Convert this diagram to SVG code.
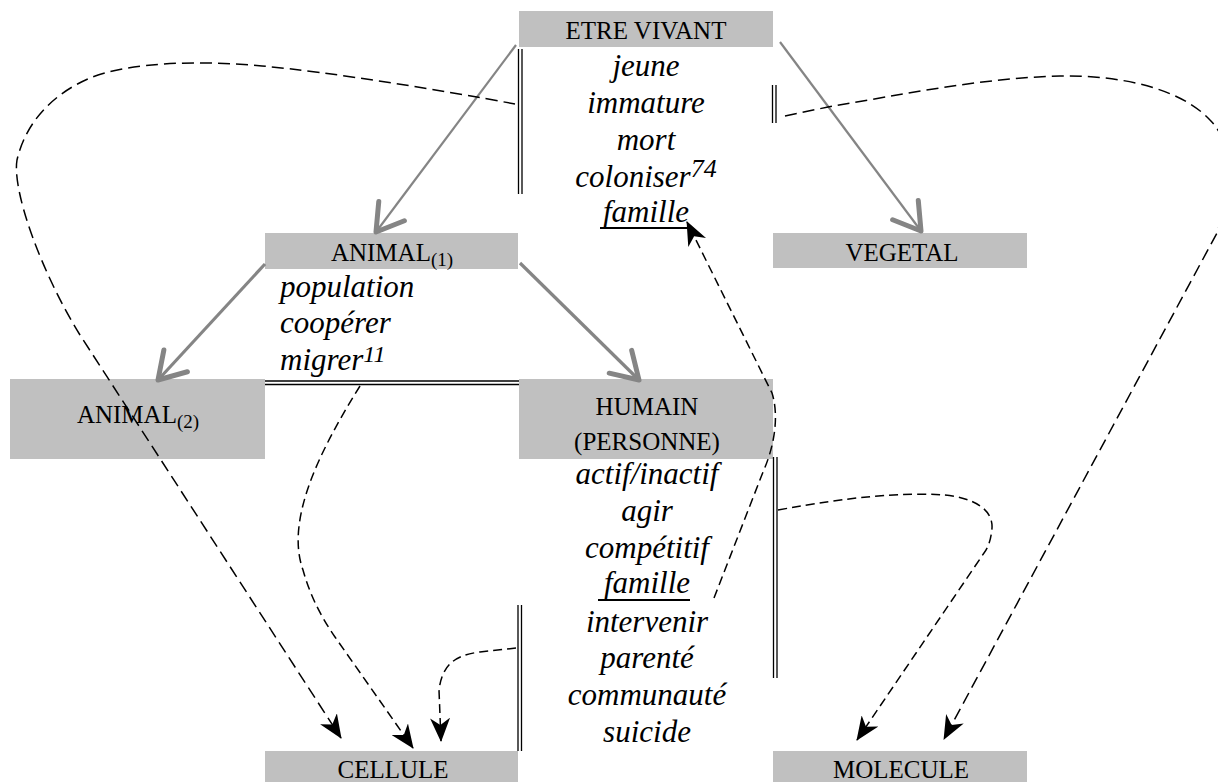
<svg xmlns="http://www.w3.org/2000/svg" width="1218" height="782" viewBox="0 0 1218 782">
<style>
.box{fill:#c0c0c0}
.lbl{font-family:"Liberation Serif","Times New Roman",serif;font-size:25px;fill:#000;text-anchor:middle}
.it{font-family:"Liberation Serif","Times New Roman",serif;font-size:31px;font-style:italic;fill:#000}
.mid{text-anchor:middle}
.dbl{stroke:#000;stroke-width:1.3;fill:none}
.gray{stroke:#858585;fill:none}
.dash{stroke:#000;stroke-width:1.5;fill:none;stroke-dasharray:9 5}
.dashl{stroke:#000;stroke-width:1.5;fill:none;stroke-dasharray:12 6}
.ul{stroke:#000;stroke-width:2}
</style>
<defs>
<marker id="ga" markerUnits="userSpaceOnUse" viewBox="-30 -20 34 40" refX="0" refY="0" markerWidth="34" markerHeight="40" orient="auto">
<path d="M-26,-16 L0,0 L-26,16" fill="none" stroke="#858585" stroke-width="5" stroke-linecap="round" stroke-linejoin="round"/>
</marker>
<marker id="ba" markerUnits="userSpaceOnUse" viewBox="0 0 24 20" refX="23" refY="10" markerWidth="24" markerHeight="20" orient="auto">
<path d="M0,0 L24,10 L0,20 L7,10 Z" fill="#000"/>
</marker>
</defs>

<g id="etre-vivant">
<rect class="box" x="519" y="11" width="254" height="36"/>
<text class="lbl" x="646" y="39">ETRE VIVANT</text>
<text class="it mid" x="646" y="76">jeune</text>
<text class="it mid" x="646" y="113">immature</text>
<text class="it mid" x="646" y="150">mort</text>
<text class="it mid" x="646" y="187">coloniser<tspan font-size="26" dy="-10">74</tspan></text>
<text class="it mid" x="646" y="222">famille</text>
<line class="ul" x1="600" y1="228" x2="688" y2="228"/>
</g>

<g id="vegetal">
<rect class="box" x="773" y="233" width="254" height="35"/>
<text class="lbl" x="902" y="261">VEGETAL</text>
</g>

<g id="animal1">
<rect class="box" x="265" y="233" width="253" height="36"/>
<text class="lbl" x="392" y="261">ANIMAL<tspan font-size="19" dy="5">(1)</tspan></text>
<text class="it" x="280" y="297">population</text>
<text class="it" x="280" y="333">coopérer</text>
<text class="it" x="280" y="370">migrer<tspan font-size="24" dy="-8">11</tspan></text>
</g>

<g id="animal2">
<rect class="box" x="10" y="379" width="255" height="80"/>
<text class="lbl" x="138" y="423">ANIMAL<tspan font-size="19" dy="5">(2)</tspan></text>
</g>

<g id="humain">
<rect class="box" x="519" y="379" width="254" height="80"/>
<text class="lbl" x="647" y="415">HUMAIN</text>
<text class="lbl" x="647" y="450">(PERSONNE)</text>
<text class="it mid" x="647" y="484">actif/inactif</text>
<text class="it mid" x="647" y="521">agir</text>
<text class="it mid" x="647" y="558">compétitif</text>
<text class="it mid" x="647" y="593">famille</text>
<line class="ul" x1="598" y1="600" x2="690" y2="600"/>
<text class="it mid" x="647" y="632">intervenir</text>
<text class="it mid" x="647" y="668">parenté</text>
<text class="it mid" x="647" y="705">communauté</text>
<text class="it mid" x="647" y="742">suicide</text>
</g>

<g id="cellule">
<rect class="box" x="265" y="751" width="253" height="31"/>
<text class="lbl" x="393" y="778">CELLULE</text>
</g>

<g id="molecule">
<rect class="box" x="773" y="751" width="254" height="31"/>
<text class="lbl" x="901" y="778">MOLECULE</text>
</g>

<g id="connectors">
<path class="dbl" d="M518.5,49 V194 M522,49 V194"/>
<path class="dbl" d="M772.5,85 V123 M776,85 V123"/>
<path class="dbl" d="M265,381 H519 M265,384.5 H519"/>
<path class="dbl" d="M773.5,457 V678 M777,457 V678"/>
<path class="dbl" d="M518,605 V751 M521.5,605 V751"/>
<line class="gray" stroke-width="2.2" x1="516" y1="45" x2="376" y2="232" marker-end="url(#ga)"/>
<line class="gray" stroke-width="2.2" x1="780" y1="42" x2="921" y2="231" marker-end="url(#ga)"/>
<line class="gray" stroke-width="3.2" x1="265" y1="264" x2="158" y2="380" marker-end="url(#ga)"/>
<line class="gray" stroke-width="3.2" x1="520" y1="263" x2="639" y2="380" marker-end="url(#ga)"/>
<path class="dashl" d="M515,104 C440,90 330,72 262,66 C200,60 130,62 90,78 C50,95 25,125 17,160 C12,190 40,270 80,335 L341,738" marker-end="url(#ba)"/>
<path class="dashl" d="M785,116 L828,107 C900,95 980,78 1060,76 C1120,75 1180,88 1210,120 C1240,150 1226,205 1217,233 L944,739" marker-end="url(#ba)"/>
<path class="dash" d="M360,386 C320,450 285,520 303,570 C310,595 320,615 335,637 L413,748" marker-end="url(#ba)"/>
<path class="dash" d="M516,648 L480,652 C455,655 442,665 439,690 L441,741" marker-end="url(#ba)"/>
<path class="dash" d="M714,598 L763,472 C775,445 779,415 772,393 L687,222" marker-end="url(#ba)"/>
<path class="dash" d="M778,510 C850,497 900,492 945,495 C975,498 993,510 992,528 C991,540 988,548 984,553 L857,740" marker-end="url(#ba)"/>
</g>
</svg>
